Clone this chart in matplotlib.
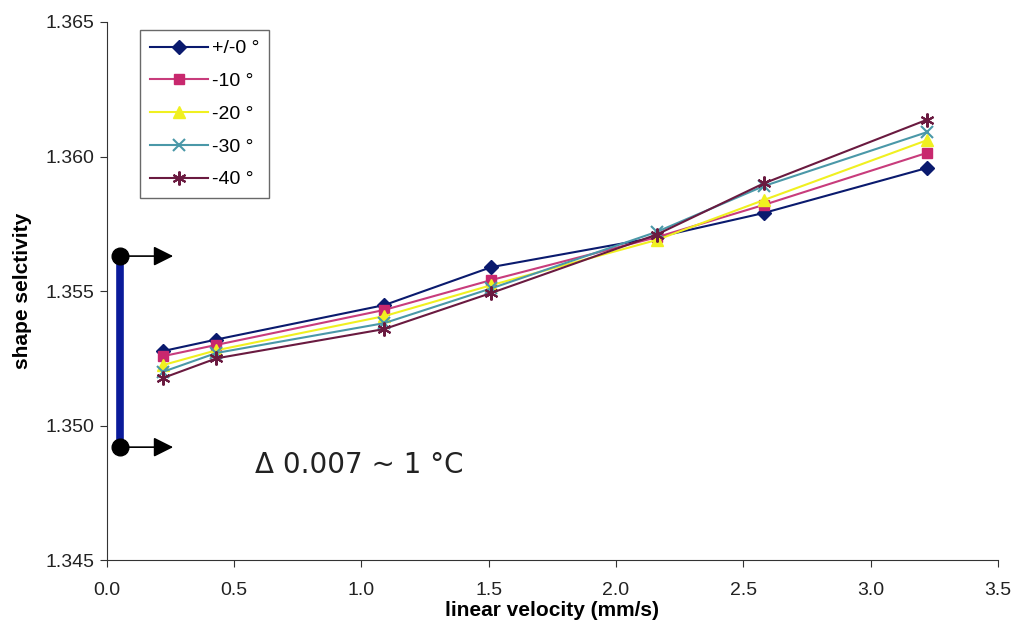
import matplotlib as mpl
mpl.use('Agg')
import matplotlib.pyplot as plt

# linear velocity (mm/s)
velocity = [0.22, 0.43, 1.09, 1.51, 2.16, 2.58, 3.22]

# shape selectivity for each temperature offset
sel_0 = [1.35277, 1.3532, 1.35448, 1.35589, 1.3570, 1.3579, 1.35957]
sel_10 = [1.35258, 1.3530, 1.3543, 1.35541, 1.3570, 1.3582, 1.36013]
sel_20 = [1.35225, 1.3528, 1.35407, 1.35522, 1.3569, 1.35838, 1.3606]
sel_30 = [1.3520, 1.3527, 1.35381, 1.3551, 1.3572, 1.3589, 1.3609]
sel_40 = [1.35177, 1.3525, 1.35359, 1.35493, 1.3571, 1.3590, 1.36136]

labels = ['+/-0 °', '-10 °', '-20 °', '-30 °', '-40 °']
series = [sel_0, sel_10, sel_20, sel_30, sel_40]

# scale bar for 1 degree
bar_x = 0.05
bar_top = 1.3563
bar_bottom = 1.3492

styles = [
    dict(color='#0a1a6e', marker='D', ms=7, mfc='#0a1a6e', mec='#0a1a6e'),
    dict(color='#c83c7c', marker='s', ms=7, mfc='#c8286e', mec='#c8286e'),
    dict(color='#f0f020', marker='^', ms=8, mfc='#f0f020', mec='#f0f020'),
    dict(color='#4a98a8', marker='x', ms=8, mew=1.5),
    dict(color='#6a1a40', marker=(6, 2, 0), ms=10, mew=1.5),
]

plt.rcParams['font.family'] = ['Liberation Sans', 'DejaVu Sans']

fig = plt.figure(figsize=(10.14, 6.28), dpi=100)
ax = fig.add_axes([0.1055, 0.108, 0.8785, 0.857])

for vals, lab, st in zip(series, labels, styles):
    ax.plot(velocity, vals, lw=1.5, label=lab, **st)

# vertical bar with end dots and arrows
ax.plot([bar_x, bar_x], [bar_top, bar_bottom], color='#0a1a9a', lw=5.5,
        solid_capstyle='butt', zorder=3)
ax.plot([bar_x, bar_x], [bar_top, bar_bottom], 'o', color='black', ms=12, zorder=4)
for yv in (bar_top, bar_bottom):
    ax.annotate('', xy=(0.26, yv), xytext=(bar_x, yv),
                arrowprops=dict(arrowstyle='-|>', color='black', lw=1.2,
                                mutation_scale=30, shrinkA=0, shrinkB=0))

ax.text(0.58, 1.34853, '\u0394 0.007 ~ 1 °C', fontsize=20, family='DejaVu Sans',
        color='#222222', va='center', ha='left')

ax.set_xlim(0, 3.5)
ax.set_ylim(1.345, 1.365)
ax.set_xticks([0, 0.5, 1.0, 1.5, 2.0, 2.5, 3.0, 3.5])
ax.set_xticklabels(['0.0', '0.5', '1.0', '1.5', '2.0', '2.5', '3.0', '3.5'])
ax.set_yticks([1.345, 1.350, 1.355, 1.360, 1.365])
ax.set_yticklabels(['1.345', '1.350', '1.355', '1.360', '1.365'])
ax.tick_params(labelsize=14, length=5, color='#333333', labelcolor='#222222')
ax.tick_params(axis='x', pad=11)
ax.tick_params(axis='y', pad=4)
ax.spines['top'].set_visible(False)
ax.spines['right'].set_visible(False)
for s in ('left', 'bottom'):
    ax.spines[s].set_color('#333333')

ax.set_xlabel('linear velocity (mm/s)', fontsize=15, fontweight='bold', labelpad=1)
ax.set_ylabel('shape selctivity', fontsize=15, fontweight='bold', labelpad=10)

leg = ax.legend(loc='upper left', bbox_to_anchor=(0.037, 0.985), fontsize=14,
                frameon=True, fancybox=False, edgecolor='#444444',
                handlelength=3.0, handletextpad=0.2, labelspacing=0.78,
                borderpad=0.5, borderaxespad=0)
leg.get_frame().set_linewidth(1.0)

fig.savefig('out.png', dpi=100)
